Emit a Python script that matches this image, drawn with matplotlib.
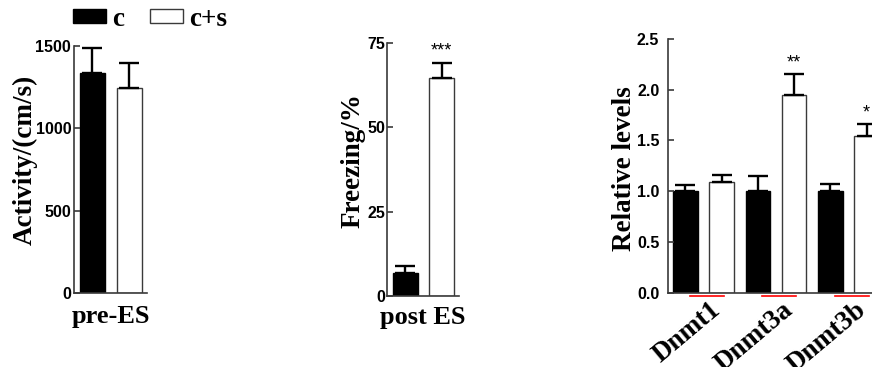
import numpy as np
import matplotlib
matplotlib.use("Agg")
import matplotlib.pyplot as plt
from matplotlib.patches import Patch
from matplotlib.transforms import ScaledTranslation, blended_transform_factory

# data
groups = ["c", "c+s"]

activity = [1335, 1245]
activity_err = [155, 150]

freezing = [6.9, 64.7]
freezing_err = [2.0, 4.5]
freezing_sig = ["", "***"]

genes = ["Dnmt1", "Dnmt3a", "Dnmt3b"]
rel_c = [1.0, 1.0, 1.0]
rel_c_err = [0.06, 0.15, 0.07]
rel_cs = [1.09, 1.95, 1.54]
rel_cs_err = [0.07, 0.20, 0.12]
rel_sig = ["", "**", "*"]

serif = "Liberation Serif"
sans = "Liberation Sans"
spine_col = "#3a3a3a"
W, H = 872.0, 367.0


def px_axes(left, top, right, bottom):
    return [left / W, 1 - bottom / H, (right - left) / W, (bottom - top) / H]


def style(ax, pad):
    for s in ("top", "right"):
        ax.spines[s].set_visible(False)
    for s in ("left", "bottom"):
        ax.spines[s].set_color(spine_col)
        ax.spines[s].set_linewidth(1.2)
    ax.tick_params(axis="y", direction="in", length=4.5, width=1.2,
                   color=spine_col, pad=pad, labelsize=11.5)
    ax.tick_params(axis="x", length=0)
    for lab in ax.get_yticklabels():
        lab.set_fontfamily(sans)
        lab.set_fontweight("bold")


def bars(ax, x, vals, errs, face):
    ax.bar(x, vals, 0.68, color=face, edgecolor="black" if face == "black" else spine_col,
           linewidth=1.0,
           yerr=[np.zeros(len(vals)), errs],
           error_kw=dict(ecolor="black", elinewidth=1.7, capsize=7.5, capthick=1.7))


def stars(ax, x, tops, labels):
    for xi, t, lab in zip(x, tops, labels):
        if lab:
            ax.annotate(lab, (xi, t), xytext=(0, 8), textcoords="offset points",
                        ha="center", va="center", fontsize=13, fontfamily=sans)


def ylabel(ax, text, x, y):
    ax.text(x, y, text, rotation=90, ha="center", va="center", transform=ax.transAxes,
            fontsize=19.5, fontfamily=serif, fontweight="bold")


fig = plt.figure(figsize=(8.72, 3.67), dpi=100)

# panel 1: activity
ax1 = fig.add_axes(px_axes(74, 46, 147, 293))
bars(ax1, [0], [activity[0]], [activity_err[0]], "black")
bars(ax1, [1], [activity[1]], [activity_err[1]], "white")
ax1.set_xlim(-0.49, 1.48)
ax1.set_ylim(0, 1500)
ax1.set_yticks([0, 500, 1000, 1500])
ax1.set_xticks([])
ax1.set_xlabel("pre-ES", fontsize=19, fontfamily=serif, fontweight="bold", labelpad=9)
style(ax1, 2)
ylabel(ax1, "Activity/(cm/s)", -0.675, 0.54)

# panel 2: freezing
ax2 = fig.add_axes(px_axes(387, 43, 459, 296))
bars(ax2, [0], [freezing[0]], [freezing_err[0]], "black")
bars(ax2, [1], [freezing[1]], [freezing_err[1]], "white")
stars(ax2, [0, 1], np.add(freezing, freezing_err), freezing_sig)
ax2.set_xlim(-0.5, 1.47)
ax2.set_ylim(0, 75)
ax2.set_yticks([0, 25, 50, 75])
ax2.set_xticks([])
ax2.set_xlabel("post ES", fontsize=19, fontfamily=serif, fontweight="bold", labelpad=7)
style(ax2, 1)
ylabel(ax2, "Freezing/%", -0.47, 0.535)

# panel 3: relative levels (right edge runs off the figure)
ax3 = fig.add_axes(px_axes(667.7, 38.7, 884, 293))
xc = np.arange(len(genes)) * 2
bars(ax3, xc, rel_c, rel_c_err, "black")
bars(ax3, xc + 1, rel_cs, rel_cs_err, "white")
stars(ax3, xc + 1, np.add(rel_cs, rel_cs_err), rel_sig)
ax3.set_xlim(-0.49, 5.48)
ax3.set_ylim(0, 2.5)
ax3.set_yticks([0, 0.5, 1.0, 1.5, 2.0, 2.5])
ax3.set_yticklabels(["0.0", "0.5", "1.0", "1.5", "2.0", "2.5"])
ax3.set_xticks(xc + 0.5)
ax3.set_xticklabels(genes, rotation=40, ha="right", va="top", rotation_mode="anchor",
                    fontsize=19.5, fontfamily=serif, fontweight="bold")
style(ax3, 6)
ax3.tick_params(axis="x", pad=3)
shift = ScaledTranslation(6 / 100, 0, fig.dpi_scale_trans)
for lab in ax3.get_xticklabels():
    lab.set_transform(lab.get_transform() + shift)
ylabel(ax3, "Relative levels", -0.202, 0.49)

# red underlines below the gene names
trans = blended_transform_factory(ax3.transData, ax3.transAxes)
for g in xc + 0.5:
    ax3.plot([g - 0.375, g + 0.56], [-0.011, -0.011], color="red", lw=1.2,
             transform=trans, clip_on=False)

# legend
handles = [Patch(facecolor="black", edgecolor="black"),
           Patch(facecolor="white", edgecolor=spine_col, linewidth=1.0)]
fig.legend(handles, groups, loc="center left", bbox_to_anchor=(73 / W, 1 - 19.5 / H),
           ncol=2, frameon=False, borderpad=0, borderaxespad=0,
           handlelength=1.2, handleheight=0.4, handletextpad=0.25, columnspacing=0.95,
           prop=dict(family=serif, weight="bold", size=19.5))

fig.savefig("out.png", dpi=100)
